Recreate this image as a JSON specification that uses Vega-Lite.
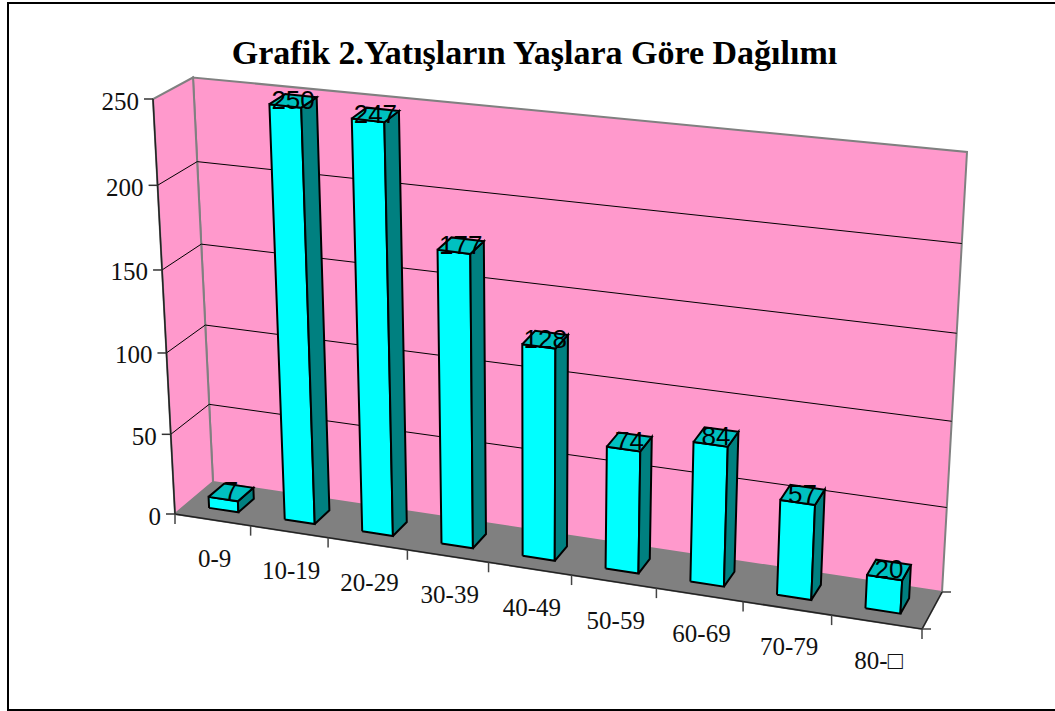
{
"$schema":"https://vega.github.io/schema/vega-lite/v6.json",
"width":1049,"height":707,
"autosize":{"type":"none"},
"padding":{"left":8,"top":3,"right":0,"bottom":1},
"background":"white",
"view":{"stroke":"#000000","strokeWidth":2,"fill":"white"},
"title":{"text":"Grafik 2.Yatışların Yaşlara Göre Dağılımı","font":"Liberation Serif","fontWeight":"bold","fontSize":34,"color":"#000000","anchor":"middle","frame":"group","offset":0,"dy":95,"dx":2,"baseline":"alphabetic"},
"datasets":{
"bars":[{"yas":"0-9","sayi":7},{"yas":"10-19","sayi":250},{"yas":"20-29","sayi":247},{"yas":"30-39","sayi":177},{"yas":"40-49","sayi":128},{"yas":"50-59","sayi":74},{"yas":"60-69","sayi":84},{"yas":"70-79","sayi":57},{"yas":"80-□","sayi":20}],
"levels":[{"level":0},{"level":50},{"level":100},{"level":150},{"level":200},{"level":250}]
},
"encoding":{
"x":{"field":"px","type":"quantitative","scale":{"domain":[8,1057],"nice":false,"zero":false},"axis":null},
"y":{"field":"py","type":"quantitative","scale":{"domain":[3,710],"reverse":true,"nice":false,"zero":false},"axis":null}
},
"layer":[
{
"data":{"values":[{"face":"floor"},{"face":"back"},{"face":"left"}]},
"transform":[
{"calculate":"[0,1,2,3,4]","as":"k"},{"flatten":["k"]},
{"calculate":"{'back':[0,1,1,0,0],'left':[0,0,0,0,0],'floor':[0,1,1,0,0]}[datum.face][datum.k]","as":"u"},
{"calculate":"{'back':[0,0,1,1,0],'left':[0,0,1,1,0],'floor':[0,0,0,0,0]}[datum.face][datum.k]","as":"v"},
{"calculate":"{'back':[1,1,1,1,1],'left':[0,1,1,0,0],'floor':[0,0,1,1,0]}[datum.face][datum.k]","as":"w"},
{"calculate":"(1-datum.w)*((1-datum.v)*(175+747*datum.u)+datum.v*(153+793*datum.u))+datum.w*((1-datum.v)*(213+729*datum.u)+datum.v*(193+774*datum.u))","as":"px"},
{"calculate":"(1-datum.w)*((1-datum.v)*(514+115*datum.u)+datum.v*(99+93*datum.u))+datum.w*((1-datum.v)*(482+110*datum.u)+datum.v*(77.5+74.5*datum.u))","as":"py"}
],
"mark":{"type":"line","stroke":"#808080","strokeWidth":2,"strokeJoin":"miter"},
"encoding":{
"order":{"field":"k","type":"quantitative"},
"fill":{"field":"face","type":"nominal","legend":null,"scale":{"domain":["back","left","floor","front","side","top"],"range":["#FF99CC","#FF99CC","#808080","#00FFFF","#008080","#00C0C0"]}}
}
},
{
"data":{"name":"levels"},
"transform":[
{"filter":"datum.level>0 && datum.level<250"},
{"calculate":"[0,1,2]","as":"k"},{"flatten":["k"]},
{"calculate":"[0,0,1][datum.k]","as":"u"},
{"calculate":"[0,1,1][datum.k]","as":"w"},
{"calculate":"(datum.level/250)*(0.95+0.05*datum.level/250)","as":"v"},
{"calculate":"(1-datum.w)*((1-datum.v)*(175+747*datum.u)+datum.v*(153+793*datum.u))+datum.w*((1-datum.v)*(213+729*datum.u)+datum.v*(193+774*datum.u))","as":"px"},
{"calculate":"(1-datum.w)*((1-datum.v)*(514+115*datum.u)+datum.v*(99+93*datum.u))+datum.w*((1-datum.v)*(482+110*datum.u)+datum.v*(77.5+74.5*datum.u))","as":"py"}
],
"mark":{"type":"line","stroke":"#000000","strokeWidth":1},
"encoding":{"order":{"field":"k","type":"quantitative"},"detail":{"field":"level","type":"nominal"}}
},
{
"data":{"values":[{"edge":"depth","k":0,"u":0,"v":1,"w":0},{"edge":"depth","k":1,"u":0,"v":0,"w":0},{"edge":"depth","k":2,"u":1,"v":0,"w":0},{"edge":"depth","k":3,"u":1,"v":0,"w":1}]},
"transform":[
{"calculate":"(1-datum.w)*((1-datum.v)*(175+747*datum.u)+datum.v*(153+793*datum.u))+datum.w*((1-datum.v)*(213+729*datum.u)+datum.v*(193+774*datum.u))","as":"px"},
{"calculate":"(1-datum.w)*((1-datum.v)*(514+115*datum.u)+datum.v*(99+93*datum.u))+datum.w*((1-datum.v)*(482+110*datum.u)+datum.v*(77.5+74.5*datum.u))","as":"py"}
],
"mark":{"type":"line","stroke":"#222222","strokeWidth":1.5},
"encoding":{"order":{"field":"k","type":"quantitative"}}
},
{
"data":{"name":"levels"},
"transform":[
{"calculate":"(datum.level/250)*(0.95+0.05*datum.level/250)","as":"v"},
{"calculate":"(1-datum.v)*175+datum.v*153","as":"px"},
{"calculate":"(1-datum.v)*514+datum.v*99","as":"py"},
{"calculate":"datum.px-9","as":"px2"}
],
"mark":{"type":"rule","stroke":"#333333","strokeWidth":1.5},
"encoding":{"x2":{"field":"px2"}}
},
{
"data":{"name":"levels"},
"transform":[
{"calculate":"(datum.level/250)*(0.95+0.05*datum.level/250)","as":"v"},
{"calculate":"(1-datum.v)*175+datum.v*153-14","as":"px"},
{"calculate":"(1-datum.v)*514+datum.v*99+2.5","as":"py"}
],
"mark":{"type":"text","align":"right","baseline":"middle","font":"Liberation Serif","fontSize":25,"color":"#111111"},
"encoding":{"text":{"field":"level","type":"quantitative"}}
},
{
"data":{"values":[{"t":0},{"t":1},{"t":2},{"t":3},{"t":4},{"t":5},{"t":6},{"t":7},{"t":8},{"t":9}]},
"transform":[
{"calculate":"datum.t/9","as":"s"},
{"calculate":"datum.s*(0.9+0.1*datum.s)","as":"u"},
{"calculate":"175+747*datum.u","as":"px"},
{"calculate":"514+115*datum.u","as":"py"},
{"calculate":"datum.py+10","as":"py2"}
],
"mark":{"type":"rule","stroke":"#444444","strokeWidth":1.5},
"encoding":{"y2":{"field":"py2"}}
},
{
"data":{"values":[{"w":0},{"w":1}]},
"transform":[
{"calculate":"datum.w==0?922:942","as":"px"},
{"calculate":"datum.w==0?629:592","as":"py"},
{"calculate":"datum.px+9","as":"px2"}
],
"mark":{"type":"rule","stroke":"#444444","strokeWidth":1.5},
"encoding":{"x2":{"field":"px2"}}
},
{
"data":{"name":"bars"},
"transform":[
{"window":[{"op":"row_number","as":"rn"}]},
{"calculate":"['front','side','top']","as":"face"},{"flatten":["face"]},
{"calculate":"[0,1,2,3,4]","as":"k"},{"flatten":["k"]},
{"calculate":"{'front':[0,1,1,0,0],'side':[1,1,1,1,1],'top':[0,1,1,0,0]}[datum.face][datum.k]","as":"ui"},
{"calculate":"{'front':[0,0,1,1,0],'side':[0,0,1,1,0],'top':[1,1,1,1,1]}[datum.face][datum.k]","as":"vi"},
{"calculate":"{'front':[0,0,0,0,0],'side':[0,1,1,0,0],'top':[0,0,1,1,0]}[datum.face][datum.k]","as":"wi"},
{"calculate":"(datum.rn-0.5+(datum.ui?0.195:-0.195))/9","as":"s"},
{"calculate":"datum.s*(0.9+0.1*datum.s)","as":"u"},
{"calculate":"datum.vi*datum.sayi/250","as":"r"},
{"calculate":"datum.r*(0.95+0.05*datum.r)","as":"v"},
{"calculate":"datum.wi?0.72:0.3","as":"w"},
{"calculate":"(1-datum.w)*((1-datum.v)*(175+747*datum.u)+datum.v*(153+793*datum.u))+datum.w*((1-datum.v)*(213+729*datum.u)+datum.v*(193+774*datum.u))","as":"px"},
{"calculate":"(1-datum.w)*((1-datum.v)*(514+115*datum.u)+datum.v*(99+93*datum.u))+datum.w*((1-datum.v)*(482+110*datum.u)+datum.v*(77.5+74.5*datum.u))","as":"py"}
],
"mark":{"type":"line","stroke":"#000000","strokeWidth":2,"strokeJoin":"miter"},
"encoding":{
"order":{"field":"k","type":"quantitative"},
"detail":{"field":"yas","type":"nominal"},
"fill":{"field":"face","type":"nominal","legend":null}
}
},
{
"data":{"name":"bars"},
"transform":[
{"window":[{"op":"row_number","as":"rn"}]},
{"calculate":"(datum.rn-0.5)/9","as":"s"},
{"calculate":"datum.s*(0.9+0.1*datum.s)","as":"u"},
{"calculate":"datum.sayi/250","as":"r"},
{"calculate":"datum.r*(0.95+0.05*datum.r)","as":"v"},
{"calculate":"0.51","as":"w"},
{"calculate":"(1-datum.w)*((1-datum.v)*(175+747*datum.u)+datum.v*(153+793*datum.u))+datum.w*((1-datum.v)*(213+729*datum.u)+datum.v*(193+774*datum.u))","as":"px"},
{"calculate":"(1-datum.w)*((1-datum.v)*(514+115*datum.u)+datum.v*(99+93*datum.u))+datum.w*((1-datum.v)*(482+110*datum.u)+datum.v*(77.5+74.5*datum.u))","as":"py"}
],
"mark":{"type":"text","align":"center","baseline":"middle","font":"Liberation Sans","fontSize":26,"color":"#000000"},
"encoding":{"text":{"field":"sayi","type":"quantitative"}}
},
{
"data":{"name":"bars"},
"transform":[
{"window":[{"op":"row_number","as":"rn"}]},
{"calculate":"(datum.rn-0.5)/9","as":"s"},
{"calculate":"datum.s*(0.9+0.1*datum.s)","as":"u"},
{"calculate":"175+747*datum.u+2","as":"px"},
{"calculate":"514+115*datum.u+39","as":"py"}
],
"mark":{"type":"text","align":"center","baseline":"middle","font":"Liberation Serif","fontSize":25,"color":"#111111"},
"encoding":{"text":{"field":"yas","type":"nominal"}}
}
]
}
